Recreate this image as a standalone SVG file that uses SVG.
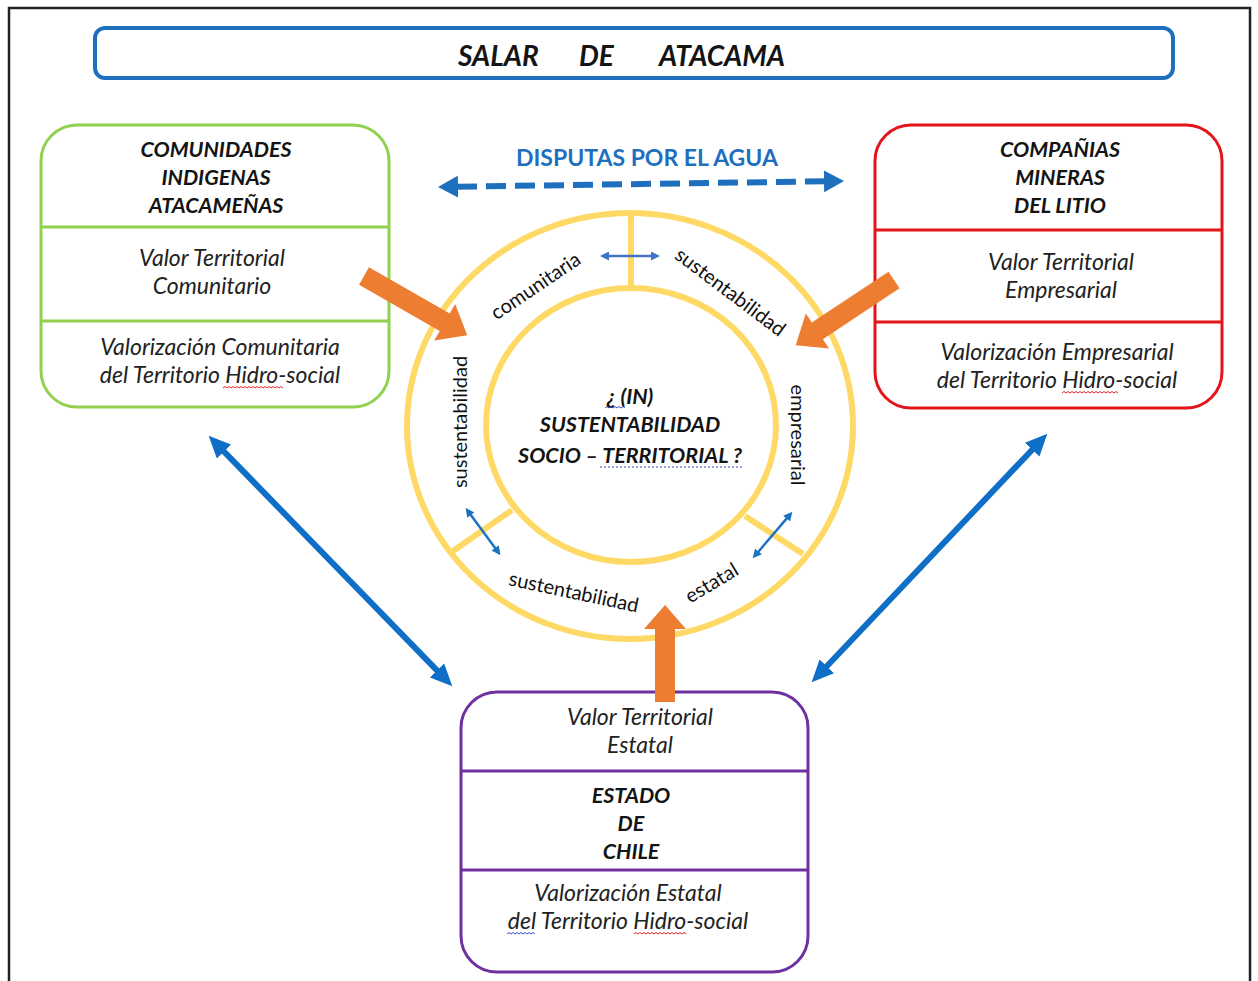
<svg xmlns="http://www.w3.org/2000/svg" width="1258" height="981" viewBox="0 0 1258 981">
<style>
text{font-family:Lato,"Open Sans","Liberation Sans",sans-serif;fill:#141414}
.hdr{font-style:italic;font-weight:bold;font-size:21.5px;text-anchor:middle}
.it{font-style:italic;font-size:23px;text-anchor:middle;fill:#222}
.ring{font-size:20px;text-anchor:middle;dominant-baseline:central;fill:#111}
.box{fill:#fff;stroke-width:3}
.ell{fill:none;stroke:#FFD966;stroke-width:6}
.div{stroke:#FFD966;stroke-width:6}
.orange{fill:#ED7D31}
.big{stroke:#0F6FC6;stroke-width:6;fill:none}
.sm{stroke-width:2.5;fill:none}
.sqr{fill:none;stroke:#E0242A;stroke-width:1}
.sqb{fill:none;stroke:#3A4FD0;stroke-width:1}
</style>
<defs>
<marker id="hBig" viewBox="0 0 22 20" markerUnits="userSpaceOnUse" markerWidth="22" markerHeight="20" refX="1" refY="10" orient="auto-start-reverse"><path d="M0,0 L22,10 L0,20 z" fill="#0F6FC6"/></marker>
<marker id="hDash" viewBox="0 0 20 22" markerUnits="userSpaceOnUse" markerWidth="20" markerHeight="22" refX="1" refY="11" orient="auto-start-reverse"><path d="M0,0 L20,11 L0,22 z" fill="#1F6FBF"/></marker>
<marker id="hSmA" viewBox="0 0 9 9" markerUnits="userSpaceOnUse" markerWidth="9" markerHeight="9" refX="1" refY="4.5" orient="auto-start-reverse"><path d="M0,0 L9,4.5 L0,9 z" fill="#4472C4"/></marker>
<marker id="hSmB" viewBox="0 0 9 9" markerUnits="userSpaceOnUse" markerWidth="9" markerHeight="9" refX="1" refY="4.5" orient="auto-start-reverse"><path d="M0,0 L9,4.5 L0,9 z" fill="#1F72C1"/></marker>
</defs>
<rect width="1258" height="981" fill="#fff"/>
<rect x="9" y="8" width="1241" height="1000" fill="none" stroke="#222" stroke-width="2.5"/>

<g id="title">
<rect x="95" y="28" width="1078" height="50" rx="10" fill="#fff" stroke="#1E6FBE" stroke-width="4"/>
<text style="font-style:italic;font-weight:bold;font-size:28px" y="66"><tspan x="458">SALAR</tspan><tspan x="579">DE</tspan><tspan x="659">ATACAMA</tspan></text>
</g>

<g id="ring">
<ellipse class="ell" cx="630" cy="426" rx="223" ry="213"/>
<ellipse class="ell" cx="631" cy="425" rx="145" ry="137"/>
<line class="div" x1="631" y1="213" x2="631" y2="288"/>
<line class="div" x1="453" y1="551" x2="512" y2="510"/>
<line class="div" x1="745" y1="516" x2="803" y2="554"/>
<text class="ring" transform="translate(535,285) rotate(-34)">comunitaria</text>
<text class="ring" transform="translate(731,291) rotate(37)">sustentabilidad</text>
<text class="ring" transform="translate(459,422) rotate(-90)">sustentabilidad</text>
<text class="ring" transform="translate(799,435) rotate(90)">empresarial</text>
<text class="ring" transform="translate(574,591) rotate(12)">sustentabilidad</text>
<text class="ring" transform="translate(711,582) rotate(-31)">estatal</text>
</g>

<g id="center">
<text class="hdr" x="630" y="404">¿ (IN)</text>
<text class="hdr" x="630" y="432">SUSTENTABILIDAD</text>
<text class="hdr" x="630" y="463">SOCIO – TERRITORIAL ?</text>
<path class="sqb" d="M605,408 l2,-1.5 l2,1.5 l2,-1.5 l2,1.5 l2,-1.5 l2,1.5 l2,-1.5 l2,1.5 l2,-1.5 l2,1.5"/>
<line x1="600" y1="467" x2="743" y2="467" stroke="#3A4FD0" stroke-width="1.2" stroke-dasharray="2 2"/>
</g>

<g id="comunidades">
<rect class="box" x="41" y="125" width="348" height="282" rx="36" stroke="#92D050"/>
<line x1="41" y1="227" x2="389" y2="227" stroke="#92D050" stroke-width="3"/>
<line x1="41" y1="321" x2="389" y2="321" stroke="#92D050" stroke-width="3"/>
<text class="hdr" x="216" y="157">COMUNIDADES</text>
<text class="hdr" x="216" y="185">INDIGENAS</text>
<text class="hdr" x="216" y="213">ATACAMEÑAS</text>
<text class="it" x="212" y="266">Valor Territorial</text>
<text class="it" x="212" y="294">Comunitario</text>
<text class="it" x="220" y="355">Valorización Comunitaria</text>
<text class="it" x="220" y="383">del Territorio Hidro-social</text>
<path class="sqr" d="M223,388 l2,-1.5 l2,1.5 l2,-1.5 l2,1.5 l2,-1.5 l2,1.5 l2,-1.5 l2,1.5 l2,-1.5 l2,1.5 l2,-1.5 l2,1.5 l2,-1.5 l2,1.5 l2,-1.5 l2,1.5 l2,-1.5 l2,1.5 l2,-1.5 l2,1.5 l2,-1.5 l2,1.5 l2,-1.5 l2,1.5 l2,-1.5 l2,1.5 l2,-1.5 l2,1.5 l2,-1.5 l2,1.5"/>
</g>

<g id="companias">
<rect class="box" x="875" y="125" width="347" height="283" rx="36" stroke="#E3151B"/>
<line x1="875" y1="230" x2="1222" y2="230" stroke="#E3151B" stroke-width="3"/>
<line x1="875" y1="322" x2="1222" y2="322" stroke="#E3151B" stroke-width="3"/>
<text class="hdr" x="1060" y="157">COMPAÑIAS</text>
<text class="hdr" x="1060" y="185">MINERAS</text>
<text class="hdr" x="1060" y="213">DEL LITIO</text>
<text class="it" x="1061" y="270">Valor Territorial</text>
<text class="it" x="1061" y="298">Empresarial</text>
<text class="it" x="1057" y="360">Valorización Empresarial</text>
<text class="it" x="1057" y="388">del Territorio Hidro-social</text>
<path class="sqr" d="M1062,393 l2,-1.5 l2,1.5 l2,-1.5 l2,1.5 l2,-1.5 l2,1.5 l2,-1.5 l2,1.5 l2,-1.5 l2,1.5 l2,-1.5 l2,1.5 l2,-1.5 l2,1.5 l2,-1.5 l2,1.5 l2,-1.5 l2,1.5 l2,-1.5 l2,1.5 l2,-1.5 l2,1.5 l2,-1.5 l2,1.5 l2,-1.5 l2,1.5 l2,-1.5 l2,1.5"/>
</g>

<g id="estado">
<rect class="box" x="461" y="692" width="347" height="280" rx="36" stroke="#7030A0"/>
<line x1="461" y1="771" x2="808" y2="771" stroke="#7030A0" stroke-width="3"/>
<line x1="461" y1="870" x2="808" y2="870" stroke="#7030A0" stroke-width="3"/>
<text class="it" x="640" y="725">Valor Territorial</text>
<text class="it" x="640" y="753">Estatal</text>
<text class="hdr" x="631" y="803">ESTADO</text>
<text class="hdr" x="631" y="831">DE</text>
<text class="hdr" x="631" y="859">CHILE</text>
<text class="it" x="628" y="901">Valorización Estatal</text>
<text class="it" x="628" y="929">del Territorio Hidro-social</text>
<path class="sqb" d="M507,934 l2,-1.5 l2,1.5 l2,-1.5 l2,1.5 l2,-1.5 l2,1.5 l2,-1.5 l2,1.5 l2,-1.5 l2,1.5 l2,-1.5 l2,1.5 l2,-1.5 l2,1.5"/>
<path class="sqr" d="M634,934 l2,-1.5 l2,1.5 l2,-1.5 l2,1.5 l2,-1.5 l2,1.5 l2,-1.5 l2,1.5 l2,-1.5 l2,1.5 l2,-1.5 l2,1.5 l2,-1.5 l2,1.5 l2,-1.5 l2,1.5 l2,-1.5 l2,1.5 l2,-1.5 l2,1.5 l2,-1.5 l2,1.5 l2,-1.5 l2,1.5 l2,-1.5 l2,1.5"/>
</g>

<g id="disputas">
<text x="647" y="166" style="font-weight:bold;font-size:23px;text-anchor:middle;fill:#1F6FBF">DISPUTAS POR EL AGUA</text>
</g>

<g id="connectors">
<line x1="457" y1="186.7" x2="825" y2="181.3" stroke="#1F6FBF" stroke-width="6" stroke-dasharray="20 9" marker-start="url(#hDash)" marker-end="url(#hDash)"/>
<line class="big" x1="223.3" y1="450.8" x2="437.7" y2="671.2" marker-start="url(#hBig)" marker-end="url(#hBig)"/>
<line class="big" x1="1032.9" y1="449" x2="826.1" y2="667" marker-start="url(#hBig)" marker-end="url(#hBig)"/>
<line class="sm" stroke="#4472C4" x1="608" y1="256" x2="652" y2="256" marker-start="url(#hSmA)" marker-end="url(#hSmA)"/>
<line class="sm" stroke="#1F72C1" x1="470.3" y1="514.3" x2="495.7" y2="548.7" marker-start="url(#hSmB)" marker-end="url(#hSmB)"/>
<line class="sm" stroke="#1F72C1" x1="787.2" y1="517.9" x2="757.9" y2="552.2" marker-start="url(#hSmB)" marker-end="url(#hSmB)"/>
<polygon class="orange" transform="translate(364,276) rotate(29.8)" points="0,-10 93,-10 93,-21 119,0 93,21 93,10 0,10"/>
<polygon class="orange" transform="translate(894,280) rotate(146.4)" points="0,-10 92,-10 92,-21 118,0 92,21 92,10 0,10"/>
<polygon class="orange" transform="translate(665,702) rotate(-90)" points="0,-10 73,-10 73,-21 97,0 73,21 73,10 0,10"/>
</g>
</svg>
